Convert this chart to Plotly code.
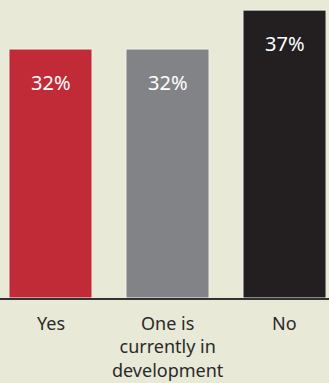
import plotly.graph_objects as go

categories = ["Yes", "One is<br>currently in<br>development", "No"]
values = [32, 32, 37]
value_labels = ["32%", "32%", "37%"]
colors = ["#c12b38", "#828386", "#231f20"]

fig = go.Figure()
fig.add_trace(go.Bar(
    x=[0, 1, 2], y=values, width=0.71,
    marker=dict(color=colors, line=dict(color="#f4f2ea", width=1)),
    hoverinfo="skip",
))

for i, (v, t) in enumerate(zip(values, value_labels)):
    fig.add_annotation(x=i, y=v, text=t, showarrow=False, yanchor="middle",
                       yshift=-33, font=dict(family="Noto Sans", size=20, color="white"))
    fig.add_annotation(x=i, y=0, text=categories[i], showarrow=False, yanchor="top",
                       yshift=-11, align="center",
                       font=dict(family="Noto Sans", size=18, color="#2a2a2a"))

fig.update_layout(
    width=329, height=383,
    margin=dict(l=0, r=0, t=0, b=85),
    paper_bgcolor="#e8e9d6", plot_bgcolor="#e8e9d6",
    showlegend=False,
    xaxis=dict(range=[-0.4316, 2.380], showticklabels=False, showgrid=False, zeroline=False,
               showline=True, linecolor="#333333", linewidth=1.5, ticks=""),
    yaxis=dict(range=[0, 38.3], visible=False, showgrid=False, zeroline=False),
)
fig.write_html("out.html")
